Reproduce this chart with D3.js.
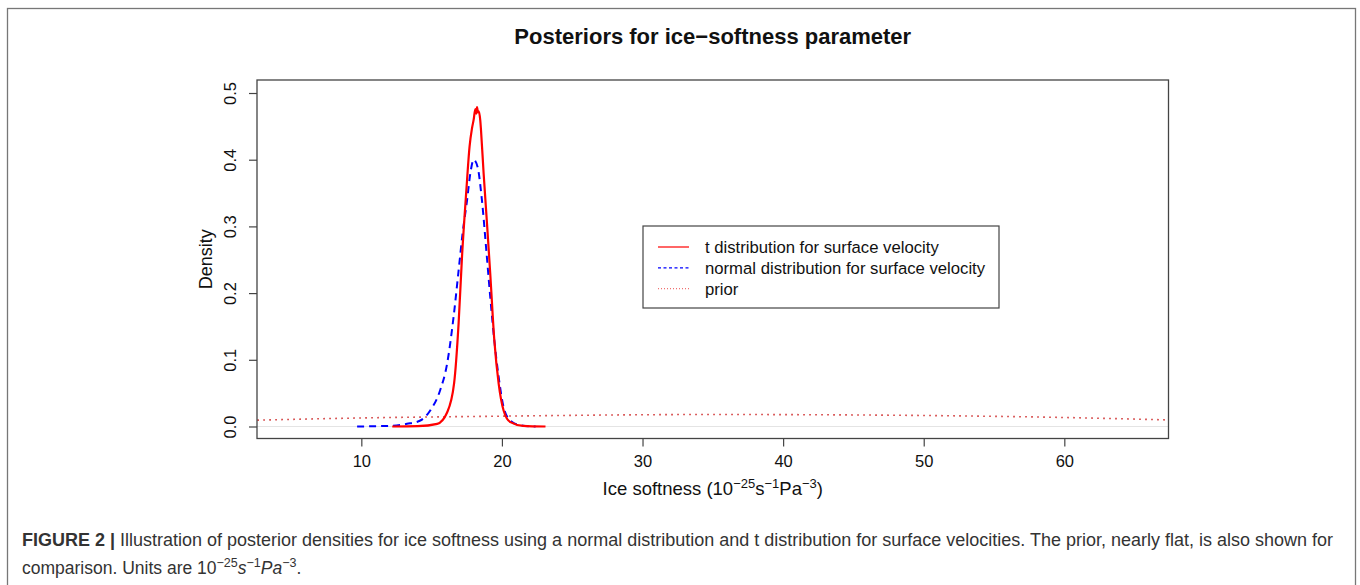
<!DOCTYPE html>
<html>
<head>
<meta charset="utf-8">
<script src="https://cdn.jsdelivr.net/npm/d3@7"></script>
<style>
  body { margin: 0; background: #fff; }
  svg { display: block; font-family: "Liberation Sans", Arial, sans-serif; }
</style>
</head>
<body>
<svg id="chart" width="1360" height="585"></svg>
<script>
// Series (x = ice softness, y = density)
const tDistX = [12.2, 14.0, 15.4, 16.1, 16.6, 16.92, 17.16, 17.47, 17.70, 17.87, 17.99, 18.11, 18.17, 18.23, 18.29, 18.34, 18.46, 18.51, 18.70, 18.94, 19.17, 19.46, 19.77, 20.12, 20.6, 21.5, 23.1];
const tDistY = [0, 0.0005, 0.004, 0.021, 0.065, 0.155, 0.254, 0.354, 0.42, 0.447, 0.46, 0.476, 0.469, 0.479, 0.471, 0.473, 0.459, 0.445, 0.379, 0.304, 0.229, 0.129, 0.064, 0.024, 0.0065, 0.001, 0];

const normX = [9.7, 12.0, 13.25, 14.2, 14.9, 15.6, 16.1, 16.56, 16.92, 17.2, 17.52, 17.75, 17.99, 18.27, 18.58, 18.89, 19.17, 19.46, 19.77, 20.12, 20.6, 21.3, 22.4];
const normY = [0, 0.001, 0.004, 0.009, 0.024, 0.054, 0.094, 0.164, 0.234, 0.289, 0.339, 0.379, 0.4, 0.389, 0.339, 0.264, 0.194, 0.129, 0.074, 0.029, 0.009, 0.002, 0];

const priorX = [2.6, 10, 20, 30, 35, 40, 50, 60, 67.4];
const priorY = [0.0095, 0.0128, 0.0155, 0.0176, 0.018, 0.0178, 0.0165, 0.0135, 0.0098];

const xTicks = [10, 20, 30, 40, 50, 60];
const yTicks = [0, 0.1, 0.2, 0.3, 0.4, 0.5];

const legendLabels = ["t distribution for surface velocity", "normal distribution for surface velocity", "prior"];

// plot box
const plotL = 257, plotR = 1168.5, plotT = 80, plotB = 438.5;

const svg = d3.select("#chart");

// outer figure frame (runs off the bottom of the picture)
svg.append("rect")
  .attr("x", 7.5).attr("y", 8.5)
  .attr("width", 1348).attr("height", 600)
  .attr("fill", "none")
  .attr("stroke", "#777")
  .attr("stroke-width", 1.3);

const x = d3.scaleLinear().domain([2.58, 67.41]).range([plotL, plotR]);
const y = d3.scaleLinear().domain([-0.018, 0.5195]).range([plotB, plotT]);

svg.append("clipPath").attr("id", "plotclip")
  .append("rect")
  .attr("x", plotL).attr("y", plotT)
  .attr("width", plotR - plotL).attr("height", plotB - plotT);

const plot = svg.append("g").attr("clip-path", "url(#plotclip)");

// faint zero line
plot.append("line")
  .attr("x1", plotL).attr("x2", plotR)
  .attr("y1", y(0)).attr("y2", y(0))
  .attr("stroke", "#e4e4e4")
  .attr("stroke-width", 1);

const line = d3.line()
  .x(d => x(d[0]))
  .y(d => y(d[1]))
  .curve(d3.curveMonotoneX);

const series = [
  { xs: priorX, ys: priorY, color: "#d23a3a", width: 1.6, dash: "1.6,4.4" },
  { xs: normX, ys: normY, color: "#0000ff", width: 2, dash: "7,5" },
  { xs: tDistX, ys: tDistY, color: "#ff0000", width: 2.2, dash: null }
];

series.forEach(s => {
  plot.append("path")
    .datum(d3.zip(s.xs, s.ys))
    .attr("d", line)
    .attr("fill", "none")
    .attr("stroke", s.color)
    .attr("stroke-width", s.width)
    .attr("stroke-dasharray", s.dash)
    .attr("stroke-linejoin", "round");
});

// box
svg.append("rect")
  .attr("x", plotL).attr("y", plotT)
  .attr("width", plotR - plotL).attr("height", plotB - plotT)
  .attr("fill", "none")
  .attr("stroke", "#444")
  .attr("stroke-width", 1.3);

// x axis
const xAxis = svg.append("g")
  .attr("transform", `translate(0,${plotB})`)
  .call(d3.axisBottom(x).tickValues(xTicks).tickSize(8).tickSizeOuter(0).tickPadding(9));
xAxis.select(".domain").remove();
xAxis.selectAll("line").attr("stroke", "#444").attr("stroke-width", 1.2);
xAxis.selectAll("text")
  .attr("font-size", 16.5)
  .attr("font-family", "Liberation Sans, Arial, sans-serif")
  .attr("fill", "#111");

// y axis, labels parallel to the axis like R
const yAxis = svg.append("g")
  .attr("transform", `translate(${plotL},0)`)
  .call(d3.axisLeft(y).tickValues(yTicks).tickFormat(d3.format(".1f")).tickSize(8).tickSizeOuter(0));
yAxis.select(".domain").remove();
yAxis.selectAll("line").attr("stroke", "#444").attr("stroke-width", 1.2);
yAxis.selectAll("text")
  .attr("x", null).attr("dy", null)
  .attr("transform", "translate(-21,0) rotate(-90)")
  .attr("text-anchor", "middle")
  .attr("font-size", 16.5)
  .attr("font-family", "Liberation Sans, Arial, sans-serif")
  .attr("fill", "#111");

// title
svg.append("text")
  .attr("x", (plotL + plotR) / 2).attr("y", 44)
  .attr("text-anchor", "middle")
  .attr("font-size", 22)
  .attr("font-weight", "bold")
  .attr("fill", "#111")
  .text("Posteriors for ice\u2212softness parameter");

// axis titles
svg.append("text")
  .attr("transform", `translate(212,${(plotT + plotB) / 2}) rotate(-90)`)
  .attr("text-anchor", "middle")
  .attr("font-size", 18)
  .attr("fill", "#111")
  .text("Density");

const xLab = svg.append("text")
  .attr("x", (plotL + plotR) / 2).attr("y", 495)
  .attr("text-anchor", "middle")
  .attr("font-size", 18.5)
  .attr("fill", "#111");
xLab.append("tspan").text("Ice softness (10");
xLab.append("tspan").attr("dy", -7.5).attr("font-size", 13).text("\u221225");
xLab.append("tspan").attr("dy", 7.5).text("s");
xLab.append("tspan").attr("dy", -7.5).attr("font-size", 13).text("\u22121");
xLab.append("tspan").attr("dy", 7.5).text("Pa");
xLab.append("tspan").attr("dy", -7.5).attr("font-size", 13).text("\u22123");
xLab.append("tspan").attr("dy", 7.5).text(")");

// legend
const legend = svg.append("g");
legend.append("rect")
  .attr("x", 643).attr("y", 226)
  .attr("width", 356).attr("height", 82)
  .attr("fill", "#fff")
  .attr("stroke", "#444")
  .attr("stroke-width", 1.2);

const legendStyles = [
  { color: "#ff0000", dash: null, width: 1.2 },
  { color: "#0000ff", dash: "3,2.5", width: 1.2 },
  { color: "#f07070", dash: "1,2", width: 1.2 }
];

legendLabels.forEach((lab, i) => {
  const cy = 247 + i * 20.8;
  legend.append("line")
    .attr("x1", 658).attr("x2", 689)
    .attr("y1", cy).attr("y2", cy)
    .attr("stroke", legendStyles[i].color)
    .attr("stroke-width", legendStyles[i].width)
    .attr("stroke-dasharray", legendStyles[i].dash);
  legend.append("text")
    .attr("x", 705).attr("y", cy + 6)
    .attr("font-size", 16.7)
    .attr("fill", "#111")
    .text(lab);
});

// caption
const cap1 = svg.append("text")
  .attr("x", 22).attr("y", 546)
  .attr("font-size", 17.5)
  .attr("fill", "#333");
cap1.append("tspan").attr("font-weight", "bold").text("FIGURE 2 |");
cap1.append("tspan").text(" Illustration of posterior densities for ice softness using a normal distribution and t distribution for surface velocities. The prior, nearly flat, is also shown for");

const cap2 = svg.append("text")
  .attr("x", 22).attr("y", 574)
  .attr("font-size", 17.5)
  .attr("fill", "#333");
cap2.append("tspan").text("comparison. Units are 10");
cap2.append("tspan").attr("dy", -7.5).attr("font-size", 12.5).text("\u221225");
cap2.append("tspan").attr("dy", 7.5).attr("font-style", "italic").text("s");
cap2.append("tspan").attr("dy", -7.5).attr("font-size", 12.5).text("\u22121");
cap2.append("tspan").attr("dy", 7.5).attr("font-style", "italic").text("Pa");
cap2.append("tspan").attr("dy", -7.5).attr("font-size", 12.5).text("\u22123");
cap2.append("tspan").attr("dy", 7.5).text(".");

// fit the first caption line to the width seen in the figure
cap1.attr("textLength", 1333 - 22).attr("lengthAdjust", "spacingAndGlyphs");
</script>
</body>
</html>
